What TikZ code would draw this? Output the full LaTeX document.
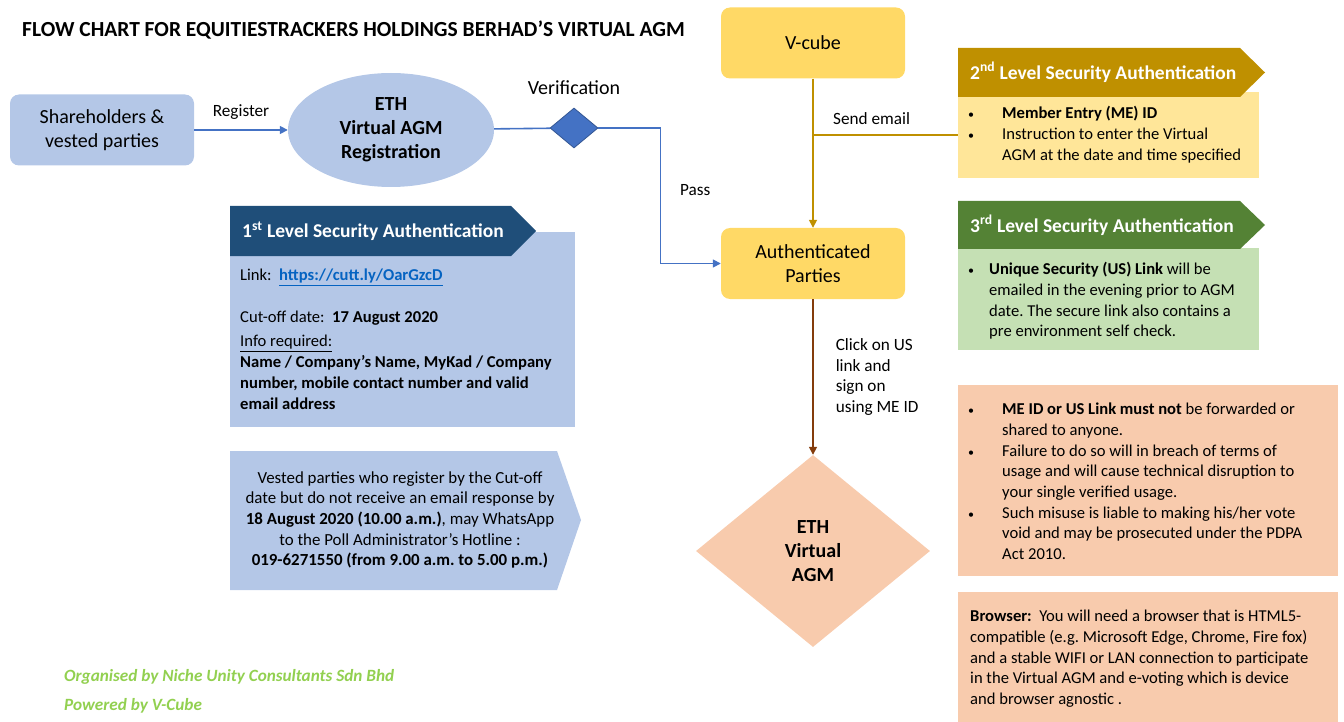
\documentclass[tikz,border=0pt]{standalone}
\usepackage{fontspec}
\setmainfont{Carlito}
\usetikzlibrary{shapes.geometric,arrows.meta,positioning}
\definecolor{lblue}{HTML}{B4C7E7}
\definecolor{mblue}{HTML}{4472C4}
\definecolor{dblue}{HTML}{1F4E79}
\definecolor{ygold}{HTML}{FFD966}
\definecolor{dgold}{HTML}{BF9000}
\definecolor{lgold}{HTML}{FFE699}
\definecolor{dgreen}{HTML}{548235}
\definecolor{lgreen}{HTML}{C5E0B4}
\definecolor{peach}{HTML}{F8CBAD}
\definecolor{dbrown}{HTML}{843C0C}
\definecolor{fgreen}{HTML}{92D050}
\definecolor{linkblue}{HTML}{0563C1}
\newcommand{\bodyfont}{\fontsize{16.6}{20.7}\selectfont}
\newcommand{\blt}{{\fontsize{12}{12}\selectfont\textbullet}}
\frenchspacing
\begin{document}
\begin{tikzpicture}[x=1pt,y=-1pt,
  rbox/.style={rounded corners=9pt,minimum width=184pt,minimum height=71pt,align=center,font=\fontsize{20}{24}\selectfont},
  bline/.style={mblue,line width=1.6pt},
  gline/.style={dgold,line width=1.6pt},
  rline/.style={dbrown,line width=1.6pt},
  arr/.style={-{Triangle[length=8pt,width=8pt]}},
  lbl/.style={text=black,font=\fontsize{17.2}{20.7}\selectfont,align=left},
  hdr/.style={white,font=\fontsize{19.5}{22}\selectfont\bfseries,anchor=west},
  txt/.style={font=\bodyfont,align=left,anchor=north west},
]
\tikzstyle{every node}+=[inner sep=0pt]
\useasboundingbox (0,0) rectangle (1344,722);
\node [anchor=west,font=\fontsize{21.5}{24}\selectfont\bfseries] (title) at (22,30) {FLOW CHART FOR EQUITIESTRACKERS HOLDINGS BERHAD’S VIRTUAL AGM};
% registration
\node [rbox,fill=lblue] (share) at (102,130) {Shareholders \&\\vested parties};
\node [ellipse,fill=lblue,minimum width=206pt,minimum height=114pt,align=center,font=\fontsize{20}{24}\selectfont\bfseries] (reg) at (391,130) {ETH\\Virtual AGM\\Registration};
\node [diamond,fill=mblue,draw=mblue!75!black,line width=0.8pt,minimum width=48pt,minimum height=40pt] (ver) at (574,128) {};
\node [font=\fontsize{20}{24}\selectfont,above=13pt of ver] (verlbl) {Verification};
% V-cube side
\node [rbox,fill=ygold] (vcube) at (813,43) {V-cube};
\node [rbox,fill=ygold] (auth) at (813,263.5) {Authenticated\\Parties};
\node [diamond,fill=peach,minimum width=234pt,minimum height=192pt,align=center,font=\fontsize{20}{24}\selectfont\bfseries] (agm) at (813,551) {ETH\\Virtual\\AGM};
\draw [bline,arr] (share) -- (reg) node [lbl,midway,above=10pt] {Register};
\draw [bline] (reg) -- (ver);
\draw [bline,arr] (ver.east) -- ++(62,0) |- (auth.west) node [lbl,pos=0.23,right=19pt] {Pass};
% level 2
\fill [lgold] (958,92) rectangle (1259,178);
\coordinate (two) at (958,135);
\fill [dgold] (958,48) -- (1240,48) -- (1265,72.5) -- (1240,97) -- (958,97) -- cycle;
\node [hdr] (twohdr) at (970,72.5) {2\textsuperscript{nd} Level Security Authentication};
\node [txt] (twotxt) at (968,104) {\begin{tabular}{@{}p{34pt}@{}l@{}}
\blt & \textbf{Member Entry (ME) ID}\\
\blt & Instruction to enter the Virtual\\
 & AGM at the date and time specified
\end{tabular}};
% level 3
\fill [lgreen] (958,248) rectangle (1259,350);
\fill [dgreen] (958,201) -- (1240,201) -- (1265,225) -- (1240,249) -- (958,249) -- cycle;
\node [hdr] (threehdr) at (970,225) {3\textsuperscript{rd} Level Security Authentication};
\node [txt] (threetxt) at (968,260) {\begin{tabular}{@{}p{21pt}@{}l@{}}
\blt & \textbf{Unique Security (US) Link} will be\\
 & emailed in the evening prior to AGM\\
 & date. The secure link also contains a\\
 & pre environment self check.
\end{tabular}};
\draw [gline,arr] (vcube) -- (auth);
\draw [gline] (vcube.south |- two) -- (two) node [lbl,pos=0.12,above right=10pt and 2pt] {Send email};
\draw [rline,arr] (auth) -- (agm) node [lbl,midway,right=22pt] {Click on US\\link and\\sign on\\using ME ID};
% level 1
\fill [lblue] (230,232) rectangle (575,427);
\fill [dblue] (230,206) -- (511,206) -- (536,231) -- (511,256) -- (230,256) -- cycle;
\node [hdr] (onehdr) at (242,231) {1\textsuperscript{st} Level Security Authentication};
\node [txt] (onetxt) at (240,269) {Link:\ \ {\color{linkblue}\underline{\textbf{https://cutt.ly/OarGzcD}}}\\[20.7pt]
Cut-off date:\ \ \textbf{17 August 2020}\\[4pt]
\underline{Info required:}\\
\textbf{Name / Company’s Name, MyKad / Company}\\
\textbf{number, mobile contact number and valid}\\
\textbf{email address}};
\fill [lblue] (230,451) -- (557,451) -- (581,520) -- (557,590) -- (230,590) -- cycle;
\node [font=\fontsize{16.9}{20.7}\selectfont,align=center] (vested) at (400,520) {Vested parties who register by the Cut-off\\
date but do not receive an email response by\\
\textbf{18 August 2020 (10.00 a.m.)}, may WhatsApp\\
to the Poll Administrator’s Hotline :\\
\textbf{019-6271550 (from 9.00 a.m. to 5.00 p.m.)}};
% notes
\fill [peach] (958,385) rectangle (1338,576);
\node [txt] (warn) at (968,400) {\begin{tabular}{@{}p{34pt}@{}l@{}}
\blt & \textbf{ME ID or US Link must not} be forwarded or\\
 & shared to anyone.\\
\blt & Failure to do so will in breach of terms of\\
 & usage and will cause technical disruption to\\
 & your single verified usage.\\
\blt & Such misuse is liable to making his/her vote\\
 & void and may be prosecuted under the PDPA\\
 & Act 2010.
\end{tabular}};
\fill [peach] (958,592) rectangle (1338,722);
\node [txt] (browser) at (970,610) {\textbf{Browser:}\ \ You will need a browser that is HTML5-\\
compatible (e.g. Microsoft Edge, Chrome, Fire fox)\\
and a stable WIFI or LAN connection to participate\\
in the Virtual AGM and e-voting which is device\\
and browser agnostic .};
\node [anchor=west,fgreen,font=\fontsize{17.2}{20}\selectfont\bfseries\itshape] (org) at (64,677) {Organised by Niche Unity Consultants Sdn Bhd};
\node [anchor=west,fgreen,font=\fontsize{17.2}{20}\selectfont\bfseries\itshape] (pow) at (64,706) {Powered by V-Cube};
\end{tikzpicture}
\end{document}
